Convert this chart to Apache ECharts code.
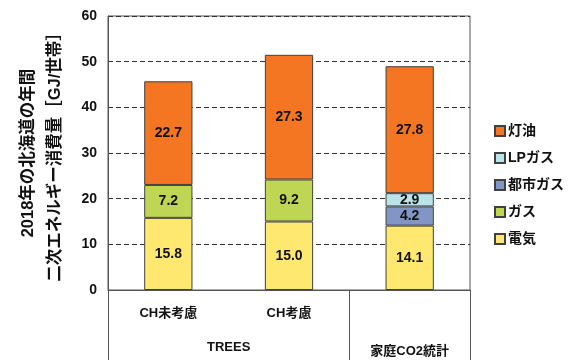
<!DOCTYPE html>
<html>
<head>
<meta charset="utf-8">
<script src="https://cdn.jsdelivr.net/npm/echarts@6/dist/echarts.min.js"></script>
<style>
  html, body { margin: 0; padding: 0; background: #fff; }
  #chart { width: 571px; height: 360px; }
</style>
</head>
<body>
<div id="chart"></div>
<script>
// Household secondary energy use in Hokkaido, 2018 (GJ per household)
const categories = ['CH未考慮', 'CH考慮', '家庭CO2統計'];
const categoryLabels = ['CH未考慮', 'CH考慮', ''];
const groupLabels = ['TREES', '家庭CO2統計'];
const groupSpans = [[0, 1], [2, 2]];

const electricity = [15.8, 15.0, 14.1];   // 電気
const gas = [7.2, 9.2, null];             // ガス
const cityGas = [null, null, 4.2];        // 都市ガス
const lpGas = [null, null, 2.9];          // LPガス
const kerosene = [22.7, 27.3, 27.8];      // 灯油

const yTicks = [0, 10, 20, 30, 40, 50, 60];
const legendOrder = ['灯油', 'LPガス', '都市ガス', 'ガス', '電気'];

const FONT = "'Liberation Sans', 'Noto Sans CJK JP', sans-serif";
const TEXT = '#111';
const WEIGHT = 'bold';
const EDGE = '#404040';

const chart = echarts.init(document.getElementById('chart'), null, { renderer: 'canvas' });

function barSeries(name, data, color) {
  return {
    name: name,
    type: 'bar',
    stack: 'total',
    data: data,
    barWidth: '40%',
    itemStyle: { color: color, borderColor: EDGE, borderWidth: 1 },
    label: {
      show: true,
      position: 'inside',
      color: TEXT,
      fontFamily: FONT,
      fontWeight: WEIGHT,
      fontSize: 14,
      formatter: p => (p.value == null ? '' : Number(p.value).toFixed(1))
    },
    emphasis: { disabled: true }
  };
}

const option = {
  animation: false,
  backgroundColor: '#fff',
  textStyle: { fontFamily: FONT, color: TEXT, fontWeight: WEIGHT },
  grid: {
    left: 108, right: 101, top: 16, bottom: 70,
    show: true, borderColor: '#555', borderWidth: 1,
    containLabel: false,
    outerBoundsMode: 'none'
  },
  legend: {
    data: legendOrder,
    orient: 'vertical',
    left: 489,
    top: 119,
    itemWidth: 10,
    itemHeight: 10,
    itemGap: 13,
    icon: 'rect',
    textStyle: { fontFamily: FONT, fontWeight: WEIGHT, fontSize: 14, color: TEXT, padding: [0, 0, 0, -2] },
    selectedMode: false
  },
  xAxis: {
    type: 'category',
    data: categories,
    axisLine: { show: true, lineStyle: { color: '#555', width: 1 } },
    axisTick: { show: false },
    axisLabel: {
      margin: 17,
      fontFamily: FONT,
      fontWeight: WEIGHT,
      fontSize: 13,
      color: TEXT,
      interval: 0,
      formatter: (v, i) => categoryLabels[i]
    }
  },
  yAxis: {
    type: 'value',
    min: yTicks[0],
    max: yTicks[yTicks.length - 1],
    interval: yTicks[1] - yTicks[0],
    name: '2018年の北海道の年間\n二次エネルギー消費量［GJ/世帯］',
    nameLocation: 'middle',
    nameRotate: 90,
    nameGap: 39,
    nameTextStyle: { fontFamily: FONT, fontWeight: WEIGHT, fontSize: 16.5, color: TEXT, lineHeight: 27 },
    axisLine: { show: true, lineStyle: { color: '#555', width: 1 } },
    axisTick: { show: false },
    axisLabel: { margin: 11, fontFamily: FONT, fontWeight: WEIGHT, fontSize: 14, color: TEXT },
    splitLine: {
      show: true,
      lineStyle: { color: '#333', type: [5, 3], width: 1 }
    }
  },
  series: [
    barSeries('電気', electricity, '#FFE870'),
    barSeries('ガス', gas, '#BFD654'),
    barSeries('都市ガス', cityGas, '#8296C6'),
    barSeries('LPガス', lpGas, '#B8E4EA'),
    barSeries('灯油', kerosene, '#F47522')
  ]
};

chart.setOption(option);

// Category table under the axis: group separators and group names
function drawGroups() {
  const c0 = chart.convertToPixel({ xAxisIndex: 0 }, 0);
  const c1 = chart.convertToPixel({ xAxisIndex: 0 }, 1);
  const band = c1 - c0;
  const yAxis0 = chart.convertToPixel({ yAxisIndex: 0 }, 0);
  const bottom = chart.getHeight();
  const elements = [];
  const edges = new Set();
  groupSpans.forEach((span, g) => {
    const left = chart.convertToPixel({ xAxisIndex: 0 }, span[0]) - band / 2;
    const right = chart.convertToPixel({ xAxisIndex: 0 }, span[1]) + band / 2;
    edges.add(Math.round(left));
    edges.add(Math.round(right));
    elements.push({
      type: 'text',
      silent: true,
      style: {
        text: groupLabels[g],
        x: (left + right) / 2,
        y: g === 0 ? yAxis0 + 57 : yAxis0 + 61,
        textAlign: 'center',
        textVerticalAlign: 'middle',
        fontFamily: FONT,
        fontWeight: WEIGHT,
        fontSize: 13,
        fill: TEXT
      }
    });
  });
  edges.forEach(x => {
    elements.push({
      type: 'line',
      silent: true,
      shape: { x1: x + 0.5, y1: yAxis0, x2: x + 0.5, y2: bottom },
      style: { stroke: '#555', lineWidth: 1 }
    });
  });
  chart.setOption({ graphic: elements });
}
drawGroups();
</script>
</body>
</html>
